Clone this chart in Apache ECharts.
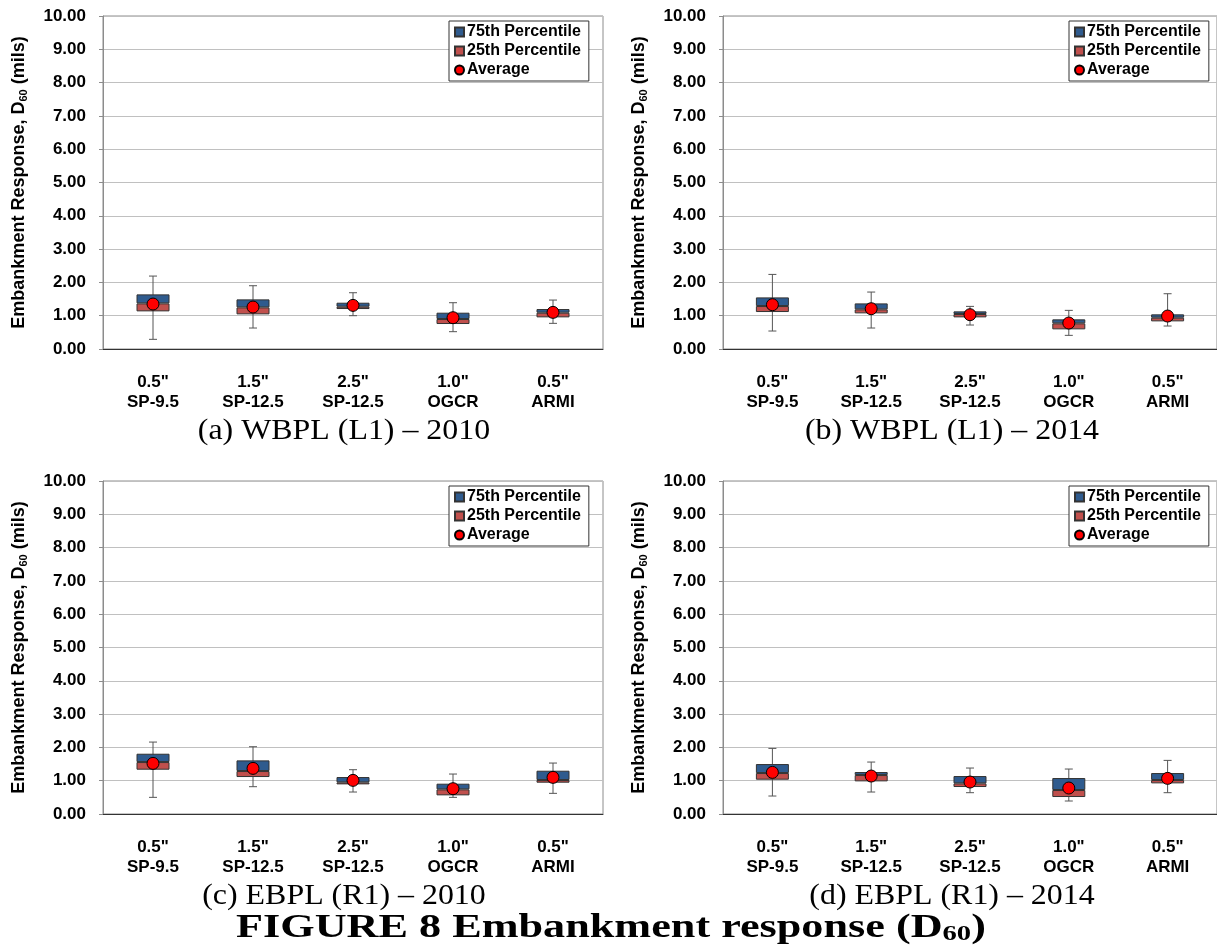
<!DOCTYPE html>
<html>
<head>
<meta charset="utf-8">
<script src="https://cdn.jsdelivr.net/npm/echarts@6/dist/echarts.min.js"></script>
<style>
  html, body { margin: 0; padding: 0; background: #fff; }
  #main { width: 1217px; height: 947px; }
</style>
</head>
<body>
<div id="main"></div>
<script>
// 分类标签
var categories = ['0.5"\nSP-9.5', '1.5"\nSP-12.5', '2.5"\nSP-12.5', '1.0"\nOGCR', '0.5"\nARMI'];
var yTicks = [0, 1, 2, 3, 4, 5, 6, 7, 8, 9, 10];

// (a) WBPL (L1) - 2010
var a_min = [0.29, 0.63, 1.00, 0.52, 0.77];
var a_q1  = [1.13, 1.04, 1.20, 0.75, 0.95];
var a_med = [1.37, 1.25, 1.27, 0.90, 1.09];
var a_q3  = [1.64, 1.49, 1.39, 1.09, 1.20];
var a_max = [2.19, 1.90, 1.69, 1.39, 1.47];
var a_avg = [1.35, 1.26, 1.31, 0.94, 1.10];

// (b) WBPL (L1) - 2014
var b_min = [0.54, 0.63, 0.72, 0.41, 0.69];
var b_q1  = [1.11, 1.07, 0.95, 0.59, 0.83];
var b_med = [1.29, 1.19, 1.05, 0.77, 0.94];
var b_q3  = [1.55, 1.37, 1.13, 0.89, 1.04];
var b_max = [2.24, 1.71, 1.28, 1.16, 1.66];
var b_avg = [1.33, 1.21, 1.03, 0.78, 0.99];

// (c) EBPL (R1) - 2010
var c_min = [0.50, 0.82, 0.66, 0.50, 0.62];
var c_q1  = [1.33, 1.11, 0.89, 0.56, 0.94];
var c_med = [1.56, 1.29, 0.95, 0.74, 1.02];
var c_q3  = [1.81, 1.61, 1.11, 0.91, 1.30];
var c_max = [2.16, 2.02, 1.33, 1.20, 1.53];
var c_avg = [1.52, 1.37, 1.01, 0.76, 1.10];

// (d) EBPL (R1) - 2014
var d_min = [0.54, 0.66, 0.64, 0.39, 0.64];
var d_q1  = [1.03, 0.98, 0.81, 0.51, 0.92];
var d_med = [1.23, 1.17, 0.92, 0.72, 1.02];
var d_q3  = [1.50, 1.26, 1.14, 1.08, 1.23];
var d_max = [1.97, 1.56, 1.38, 1.35, 1.61];
var d_avg = [1.25, 1.14, 0.96, 0.78, 1.07];

var panels = [
    { min: a_min, q1: a_q1, med: a_med, q3: a_q3, max: a_max, avg: a_avg, left: 103, top: 16 },
    { min: b_min, q1: b_q1, med: b_med, q3: b_q3, max: b_max, avg: b_avg, left: 723, top: 16 },
    { min: c_min, q1: c_q1, med: c_med, q3: c_q3, max: c_max, avg: c_avg, left: 103, top: 481 },
    { min: d_min, q1: d_q1, med: d_med, q3: d_q3, max: d_max, avg: d_avg, left: 723, top: 481 }
];

var FONT = '"Liberation Sans", Arial, sans-serif';
var SERIF = '"Liberation Serif", "Times New Roman", serif';
var BLUE = '#2F5B8E';
var RED = '#C0504D';

function diff(a, b) {
    return a.map(function (v, i) { return +(v - b[i]).toFixed(2); });
}

var grids = [], xAxes = [], yAxes = [], legends = [], series = [];

panels.forEach(function (p, k) {
    grids.push({ left: p.left, top: p.top, width: 500, height: 333, show: true, borderColor: '#8c8c8c', borderWidth: 1, containLabel: false });
    xAxes.push({
        type: 'category', gridIndex: k, data: categories,
        axisLine: { lineStyle: { color: '#333', width: 1 } },
        axisTick: { show: false },
        axisLabel: { color: '#000', fontFamily: FONT, fontWeight: 'bold', fontSize: 17, lineHeight: 20, margin: 23 }
    });
    yAxes.push({
        type: 'value', gridIndex: k, min: 0, max: 10, interval: 1,
        name: '{a|Embankment Response, D}{s|60}{a| (mils)}',
        nameLocation: 'middle', nameGap: 74, nameRotate: 90,
        nameTextStyle: {
            rich: {
                a: { fontFamily: FONT, fontWeight: 'bold', fontSize: 18, color: '#000' },
                s: { fontFamily: FONT, fontWeight: 'bold', fontSize: 11, color: '#000', padding: [8, 0, 0, 0] }
            }
        },
        axisLine: { show: true, lineStyle: { color: '#8c8c8c' } },
        axisTick: { show: true, length: 4, lineStyle: { color: '#8c8c8c' } },
        splitLine: { lineStyle: { color: '#c0c0c0', width: 1 } },
        axisLabel: {
            color: '#000', fontFamily: FONT, fontWeight: 'bold', fontSize: 17, margin: 17,
            formatter: function (v) { return v.toFixed(2); }
        }
    });
    legends.push({
        orient: 'vertical', left: p.left + 346, top: p.top + 5,
        data: [
            { name: '75th Percentile', icon: 'rect' },
            { name: '25th Percentile', icon: 'rect' },
            { name: 'Average', icon: 'circle' }
        ],
        itemWidth: 9, itemHeight: 9, itemGap: 3,
        padding: [3, 8, 3, 5],
        borderColor: '#333', borderWidth: 1, backgroundColor: '#fff',
        textStyle: { fontFamily: FONT, fontWeight: 'bold', fontSize: 16, color: '#000', padding: [0, 0, 0, -2] }
    });

    var whiskerData = p.min.map(function (v, i) { return [i, v, p.max[i]]; });
    series.push({
        type: 'custom', xAxisIndex: k, yAxisIndex: k, z: 1, silent: true,
        data: whiskerData,
        renderItem: function (params, api) {
            var lo = api.coord([api.value(0), api.value(1)]);
            var hi = api.coord([api.value(0), api.value(2)]);
            var s = { stroke: '#555', lineWidth: 1 };
            return {
                type: 'group', children: [
                    { type: 'line', shape: { x1: lo[0], y1: lo[1], x2: hi[0], y2: hi[1] }, style: s },
                    { type: 'line', shape: { x1: hi[0] - 4, y1: hi[1], x2: hi[0] + 4, y2: hi[1] }, style: s },
                    { type: 'line', shape: { x1: lo[0] - 4, y1: lo[1], x2: lo[0] + 4, y2: lo[1] }, style: s }
                ]
            };
        }
    });
    series.push({
        name: 'base', type: 'bar', stack: 's' + k, xAxisIndex: k, yAxisIndex: k, z: 2,
        barWidth: 33, silent: true,
        itemStyle: { color: 'transparent' },
        data: p.q1
    });
    series.push({
        name: '25th Percentile', type: 'bar', stack: 's' + k, xAxisIndex: k, yAxisIndex: k, z: 2,
        barWidth: 33,
        itemStyle: { color: RED, borderColor: '#333', borderWidth: 1 },
        data: diff(p.med, p.q1)
    });
    series.push({
        name: '75th Percentile', type: 'bar', stack: 's' + k, xAxisIndex: k, yAxisIndex: k, z: 2,
        barWidth: 33,
        itemStyle: { color: BLUE, borderColor: '#333', borderWidth: 1 },
        data: diff(p.q3, p.med)
    });
    series.push({
        name: 'Average', type: 'scatter', xAxisIndex: k, yAxisIndex: k, z: 3,
        symbol: 'circle', symbolSize: 12,
        itemStyle: { color: '#FF0000', borderColor: '#000', borderWidth: 1, opacity: 1 },
        data: p.avg
    });
});

var captions = [
    { text: '(a) WBPL (L1) \u2013 2010', x: 344, y: 431 },
    { text: '(b) WBPL (L1) \u2013 2014', x: 952, y: 431 },
    { text: '(c) EBPL (R1) \u2013 2010', x: 344, y: 896 },
    { text: '(d) EBPL (R1) \u2013 2014', x: 952, y: 896 }
];
var graphics = captions.map(function (c) {
    return {
        type: 'text', x: c.x, y: c.y, scaleX: 1.1,
        style: { text: c.text, fill: '#000', font: '29px ' + SERIF, textAlign: 'center', textVerticalAlign: 'middle' }
    };
});
graphics.push({
    type: 'text', x: 611, y: 928, scaleX: 1.3,
    style: {
        text: '{t|FIGURE 8 Embankment response (D}{s|60}{t|)}',
        rich: {
            t: { font: 'bold 34px ' + SERIF, fill: '#000' },
            s: { font: 'bold 22px ' + SERIF, fill: '#000', padding: [12, 0, 0, 0] }
        },
        textAlign: 'center', textVerticalAlign: 'middle'
    }
});

var myChart = echarts.init(document.getElementById('main'));
myChart.setOption({
    backgroundColor: '#fff',
    animation: false,
    grid: grids,
    xAxis: xAxes,
    yAxis: yAxes,
    legend: legends,
    series: series,
    graphic: graphics
});
</script>
</body>
</html>
